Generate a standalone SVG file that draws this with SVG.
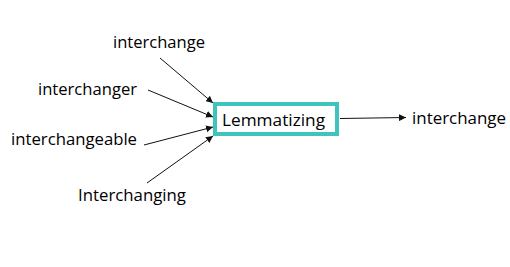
<svg xmlns="http://www.w3.org/2000/svg" width="510" height="267" viewBox="0 0 510 267">
  <style>
    .lbl { font-family: "Open Sans", "Liberation Sans", sans-serif; font-size: 17px; fill: #000; }
    .edge { stroke: #111; stroke-width: 1; fill: none; marker-end: url(#arrow); }
    .box { fill: #fff; stroke: #3fc3bd; stroke-width: 4; }
  </style>
  <defs>
    <marker id="arrow" viewBox="0 0 10 10" refX="10" refY="5" markerWidth="7" markerHeight="7" markerUnits="userSpaceOnUse" orient="auto">
      <path d="M0,0 L10,5 L0,10 z" fill="#111"/>
    </marker>
  </defs>
  <rect width="510" height="267" fill="#fff"/>

  <g id="connectors">
    <line class="edge" x1="160" y1="58" x2="213" y2="103"/>
    <line class="edge" x1="148" y1="90" x2="213" y2="117"/>
    <line class="edge" x1="144" y1="145" x2="213" y2="127"/>
    <line class="edge" x1="147" y1="183" x2="213" y2="136"/>
    <line class="edge" x1="340" y1="118.5" x2="406" y2="117.5"/>
  </g>

  <g id="lemmatizing">
    <rect class="box" x="215" y="104" width="122" height="30"/>
    <text class="lbl" x="222" y="126" textLength="103" lengthAdjust="spacingAndGlyphs">Lemmatizing</text>
  </g>
  <g id="in-interchange">
    <text class="lbl" x="113" y="48" textLength="92" lengthAdjust="spacingAndGlyphs">interchange</text>
  </g>
  <g id="in-interchanger">
    <text class="lbl" x="38" y="95" textLength="99" lengthAdjust="spacingAndGlyphs">interchanger</text>
  </g>
  <g id="in-interchangeable">
    <text class="lbl" x="11" y="145" textLength="126" lengthAdjust="spacingAndGlyphs">interchangeable</text>
  </g>
  <g id="in-interchanging">
    <text class="lbl" x="78" y="201" textLength="108" lengthAdjust="spacingAndGlyphs">Interchanging</text>
  </g>
  <g id="out-interchange">
    <text class="lbl" x="412" y="124" textLength="94" lengthAdjust="spacingAndGlyphs">interchange</text>
  </g>
</svg>
